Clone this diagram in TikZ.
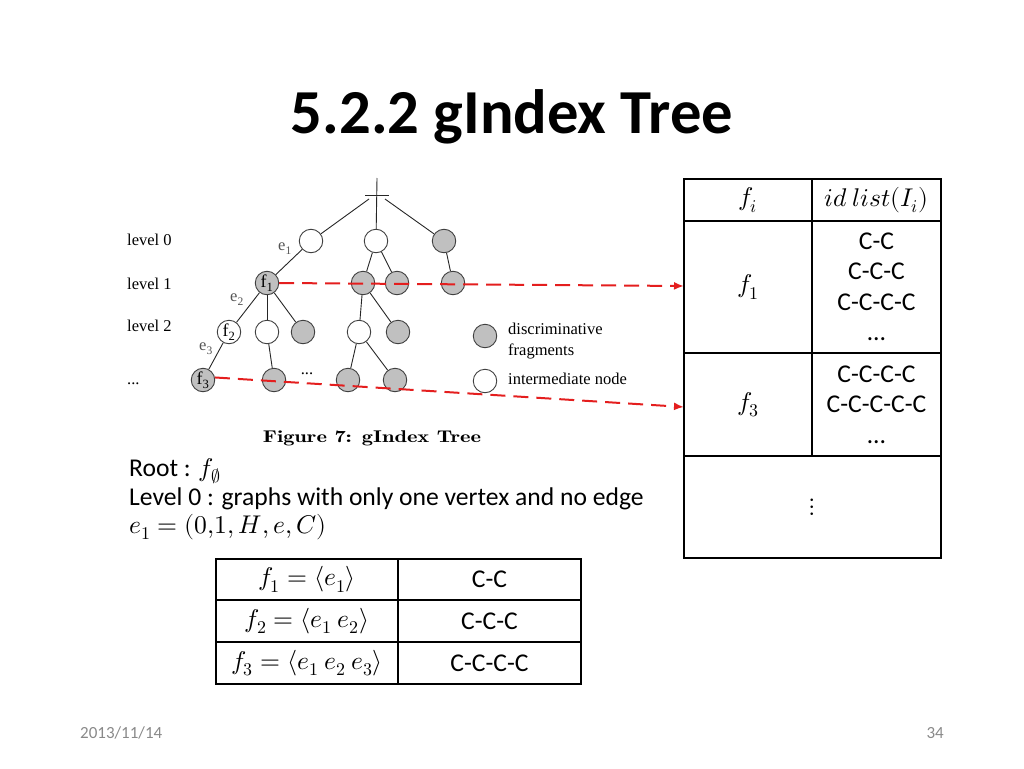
\documentclass[tikz,border=0pt]{standalone}
\usepackage{graphicx}
\usepackage{fontspec}
\usepackage{unicode-math}
\setmainfont{Carlito}
\setmathfont{Latin Modern Math}
\newfontfamily\treefont{Liberation Serif}
\usetikzlibrary{arrows.meta}
\definecolor{nodegray}{RGB}{192,192,192}
\definecolor{arrred}{RGB}{228,30,30}
\definecolor{footgray}{RGB}{137,137,137}
\definecolor{elabel}{RGB}{85,85,85}
\begin{document}
\begin{tikzpicture}[x=1pt,y=-1pt,
  tnode/.style={circle, draw=black!75, line width=0.9pt, minimum size=23.5pt, inner sep=0pt,
    font=\treefont\fontsize{18}{18}\selectfont},
  gnode/.style={tnode, fill=nodegray},
  wnode/.style={tnode, fill=white},
  tedge/.style={draw=black!85, line width=0.9pt},
  treetxt/.style={inner sep=0pt, font=\treefont\fontsize{16.5}{18}\selectfont},
  elab/.style={inner sep=0pt, text=elabel, font=\treefont\fontsize{16.5}{18}\selectfont},
  cell/.style={draw, line width=1.3pt, inner sep=0pt, align=center,
    font=\fontsize{25.6}{30.5}\selectfont},
  body/.style={inner sep=0pt, anchor=base west, font=\fontsize{25.6}{30}\selectfont},
  redarrow/.style={draw=arrred, line width=2pt, dash pattern=on 15pt off 8pt,
    -{Latex[length=10pt,width=8pt]}},
  foot/.style={inner sep=0pt, text=footgray, font=\fontsize{17}{17}\selectfont}]
\useasboundingbox (0,0) rectangle (1024,768);

% title
\node[inner sep=0pt, anchor=base, font=\bfseries\fontsize{62.6}{62.6}\selectfont] (title) at (512,133) {5.2.2 gIndex Tree};

% tree root
\coordinate (rtop) at (377,178);
\coordinate (rL) at (365,195);
\coordinate (rR) at (389,195);
\coordinate (rl) at (369,199);
\coordinate (rr) at (385,199);

% tree nodes
\node[wnode] (a0) at (311,241) {};
\node[wnode] (b0) at (376,241) {};
\node[gnode] (c0) at (444,241) {};
\node[gnode] (f1) at (267,283) {f\textsubscript{1}};
\node[gnode] (b1) at (363,283) {};
\node[gnode] (b2) at (397,283) {};
\node[gnode] (c1) at (453,283) {};
\node[wnode] (f2) at (229,332) {f\textsubscript{2}};
\node[wnode] (g1) at (267,332) {};
\node[gnode] (g2) at (303,332) {};
\node[wnode] (h1) at (359,332) {};
\node[gnode] (h2) at (398,332) {};
\node[gnode] (f3) at (203,380) {f\textsubscript{3}};
\node[gnode] (k1) at (274,380) {};
\node[treetxt] (tdots) at (307,374) {...};
\node[gnode] (m1) at (348,380) {};
\node[gnode] (m2) at (395,380) {};

% tree edges
\draw[tedge] (rL) -- (rR);
\draw[tedge] (rtop) -- (b0);
\draw[tedge] (rl) -- (a0);
\draw[tedge] (rr) -- (c0);
\draw[tedge] (a0) -- (f1);
\draw[tedge] (b0) -- (b1);
\draw[tedge] (b0) -- (b2);
\draw[tedge] (c0) -- (c1);
\draw[tedge] (f1) -- (f2);
\draw[tedge] (f1) -- (g1);
\draw[tedge] (f1) -- (g2);
\draw[tedge] (b1) -- (h1);
\draw[tedge] (b1) -- (h2);
\draw[tedge] (f2) -- (f3);
\draw[tedge] (g1) -- (k1);
\draw[tedge] (h1) -- (m1);
\draw[tedge] (h1) -- (m2);

% edge labels
\node[elab] (e1l) at (285,249) {e\textsubscript{1}};
\node[elab] (e2l) at (237,300) {e\textsubscript{2}};
\node[elab] (e3l) at (206,349) {e\textsubscript{3}};

% level labels
\node[treetxt, anchor=base west] (lv0) at (127,245) {level 0};
\node[treetxt, anchor=base west] (lv1) at (127,289) {level 1};
\node[treetxt, anchor=base west] (lv2) at (127,331) {level 2};
\node[treetxt, anchor=base west] (lv3) at (127,384) {...};

% legend
\node[gnode] (lg) at (485,336) {};
\node[wnode] (lw) at (485,381) {};
\node[treetxt, anchor=base west] (lgt1) at (508,334) {discriminative};
\node[treetxt, anchor=base west] (lgt2) at (508,355) {fragments};
\node[treetxt, anchor=base west] (lwt) at (508,384) {intermediate node};

% caption
\node[inner sep=0pt, anchor=base] (cap) at (372,442)
  {\scalebox{1.32}[1]{\fontfamily{lmr}\fontsize{17}{17}\selectfont\bfseries Figure 7: gIndex Tree}};

% right table
\node[cell, minimum width=128pt, minimum height=42pt] (th1) at (748,200) {$f_i$};
\node[cell, minimum width=129pt, minimum height=42pt] (th2) at (876.5,200) {$id\ list(I_i)$};
\node[cell, minimum width=128pt, minimum height=132pt] (r1a) at (748,287) {$f_1$};
\node[cell, minimum width=129pt, minimum height=132pt] (r1b) at (876.5,287) {C-C\\C-C-C\\C-C-C-C\\…};
\node[cell, minimum width=128pt, minimum height=103pt] (r3a) at (748,404.5) {$f_3$};
\node[cell, minimum width=129pt, minimum height=103pt] (r3b) at (876.5,404.5) {C-C-C-C\\C-C-C-C-C\\…};
\node[cell, minimum width=257pt, minimum height=102pt, font=\fontsize{25}{25}\selectfont] (r4) at (812.5,507) {$\vdots$};

% red arrows
\coordinate (a1end) at (684,286);
\coordinate (a2end) at (684,407);
\draw[redarrow] (f1.east) -- (a1end);
\draw[redarrow] (f3.12) -- (a2end);

% body text
\node[body] (root) at (129,476) {Root : $f_{\emptyset}$};
\node[body] (lvl0) at (129,505) {Level 0 : graphs with only one vertex and no edge};
\node[body] (e1def) at (129,533) {$e_1=(0{,}1,H,e,C)$};

% bottom table
\node[cell, minimum width=182pt, minimum height=41pt] (b1a) at (307,579.5) {$f_1=\langle e_1\rangle$};
\node[cell, minimum width=183pt, minimum height=41pt] (b1b) at (489.5,579.5) {C-C};
\node[cell, minimum width=182pt, minimum height=42pt] (b2a) at (307,621) {$f_2=\langle e_1\ e_2\rangle$};
\node[cell, minimum width=183pt, minimum height=42pt] (b2b) at (489.5,621) {C-C-C};
\node[cell, minimum width=182pt, minimum height=42pt] (b3a) at (307,663) {$f_3=\langle e_1\ e_2\ e_3\rangle$};
\node[cell, minimum width=183pt, minimum height=42pt] (b3b) at (489.5,663) {C-C-C-C};

% footer
\node[foot, anchor=west] (date) at (80,733) {2013/11/14};
\node[foot, anchor=east] (page) at (944,733) {34};
\end{tikzpicture}
\end{document}
